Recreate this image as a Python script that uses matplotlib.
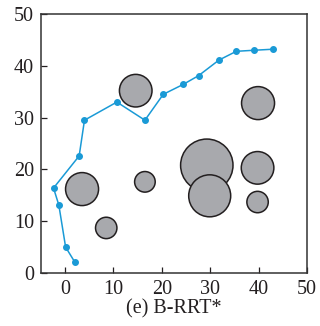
import matplotlib.pyplot as plt
import numpy as np

# path of B-RRT*
path_x = [2.0, 0.1, -1.3, -2.4, 2.9, 4.0, 10.7, 16.5, 20.3, 24.4, 27.6, 31.8, 35.4, 39.0, 42.9]
path_y = [2.1, 5.0, 13.1, 16.4, 22.6, 29.5, 33.0, 29.5, 34.5, 36.4, 38.1, 41.1, 42.8, 43.0, 43.2]

# obstacles (centre x, centre y, radius in px)
obs_x = [14.6, 39.9, 29.3, 29.9, 39.8, 39.8, 3.5, 8.5, 16.5]
obs_y = [35.2, 32.8, 20.8, 14.9, 20.3, 13.7, 16.2, 8.7, 17.6]
obs_r = [16.3, 16.5, 26.2, 21.0, 16.3, 10.7, 16.5, 10.7, 10.3]

plt.rcParams['font.family'] = ['Liberation Serif', 'DejaVu Serif']
plt.rcParams['font.size'] = 14.5

dpi = 100
fig = plt.figure(figsize=(3.2, 3.26), dpi=dpi)
ax = fig.add_axes([0.128, 0.1626, 0.831, 0.7944])

# marker size in points^2 from pixel radius
s = [(2 * r * 72 / dpi) ** 2 for r in obs_r]
ax.scatter(obs_x, obs_y, s=s, c='#a8a9ad', edgecolors='#231f20', linewidths=1.1, zorder=2)

ax.plot(path_x, path_y, color='#1a9ad6', lw=1.1, marker='o', ms=4.0, zorder=3)

ax.set_xlim(-5, 50)
ax.set_ylim(0, 50)
ax.set_xticks([0, 10, 20, 30, 40, 50])
ax.set_yticks([0, 10, 20, 30, 40, 50])
ax.tick_params(direction='in', length=4.3, width=0.9, color='#231f20', labelcolor='#231f20')
ax.tick_params(axis='y', pad=5)
ax.tick_params(axis='x', pad=5)
for sp in ax.spines.values():
    sp.set_linewidth(1.1)
    sp.set_color('#333333')
ax.set_xlabel('(e) B-RRT*', color='#231f20', labelpad=0)

plt.savefig('out.png', dpi=dpi)
